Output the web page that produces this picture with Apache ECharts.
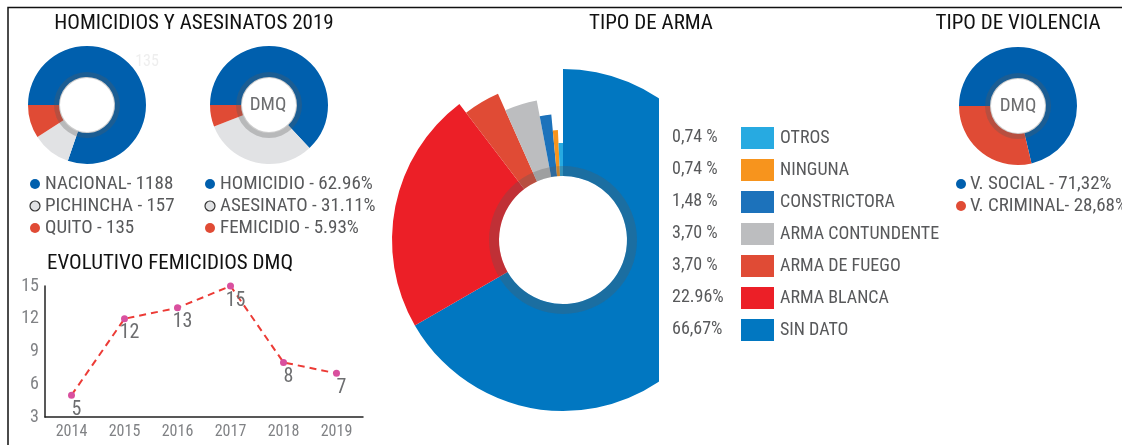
<!DOCTYPE html>
<html lang="es">
<head>
<meta charset="UTF-8"/>
<title>Homicidios DMQ 2019</title>
<script src="https://cdn.jsdelivr.net/npm/echarts@6/dist/echarts.min.js"></script>
<style>
  html, body { margin: 0; padding: 0; background: #fff; }
  #main { width: 1122px; height: 445px; }
</style>
</head>
<body>
<div id="main"></div>
<script type="text/javascript">
// datos
var nacNames = ['NACIONAL', 'PICHINCHA', 'QUITO'];
var nacValues = [1188, 157, 135];
var dmqNames = ['HOMICIDIO', 'ASESINATO', 'FEMICIDIO'];
var dmqValues = [62.96, 31.11, 5.93];
var dmqLabels = ['62.96%', '31.11%', '5.93%'];
var violNames = ['V. SOCIAL', 'V. CRIMINAL'];
var violValues = [71.32, 28.68];
var violLabels = ['71,32%', '28,68%'];
var years = ['2014', '2015', '2016', '2017', '2018', '2019'];
var femicidios = [5, 12, 13, 15, 8, 7];
var yTicks = [3, 6, 9, 12, 15];
// tipo de arma, en orden de la torta (sentido horario desde arriba)
var armaNames = ['SIN DATO', 'ARMA BLANCA', 'ARMA DE FUEGO', 'ARMA CONTUNDENTE', 'CONSTRICTORA', 'NINGUNA', 'OTROS'];
var armaValues = [66.67, 22.96, 3.70, 3.70, 1.48, 0.74, 0.74];
var armaLabels = ['66,67%', '22.96%', '3,70 %', '3,70 %', '1,48 %', '0,74 %', '0,74 %'];

// estilos
var FONT = 'Roboto Condensed, Roboto, sans-serif';
var blue = '#005fad', lgray = '#e1e2e4', orange = '#e04b35';
var armaColors = ['#0177c1', '#ec1f27', '#e04b35', '#bcbdbf', '#1c72bb', '#f7941d', '#27aae1'];
var armaRadius = [171, 171, 160, 142, 126, 110, 97];
var ringColor = 'rgba(90,90,90,0.3)';

var myChart = echarts.init(document.getElementById('main'));

function donut(cx, cy, names, values, colors) {
    return {
        type: 'pie', center: [cx, cy], radius: [28, 59], startAngle: 180,
        label: { show: false }, labelLine: { show: false }, silent: true,
        data: names.map(function (n, i) {
            return { name: n, value: values[i], itemStyle: { color: colors[i] } };
        })
    };
}
function ring(cx, cy, r0, r1) {
    return {
        type: 'pie', center: [cx, cy], radius: [r0, r1], silent: true, z: 5,
        label: { show: false }, labelLine: { show: false },
        data: [{ value: 1, itemStyle: { color: ringColor } }]
    };
}

var series = [];
series.push(donut(87, 105, nacNames, nacValues, [blue, lgray, orange]));
series.push(ring(87, 105, 27, 33));
series.push(donut(269, 105, dmqNames, dmqValues, [blue, lgray, orange]));
series.push(ring(269, 105, 27, 33));
series.push(donut(1018, 106, violNames, violValues, [blue, orange]));
series.push(ring(1018, 106, 27, 33));

// torta tipo de arma: una serie por categoria con su propio radio
armaNames.forEach(function (name, k) {
    series.push({
        type: 'pie', center: [563, 240], radius: [64, armaRadius[k]], startAngle: 90,
        silent: true, label: { show: false }, labelLine: { show: false },
        z: 2,
        data: armaNames.map(function (n, i) {
            return { name: n, value: armaValues[i],
                itemStyle: { color: i === k ? armaColors[i] : 'rgba(0,0,0,0)' } };
        })
    });
});
series.push(ring(563, 240, 64, 74));

// evolutivo femicidios
series.push({
    type: 'line', xAxisIndex: 0, yAxisIndex: 0,
    data: femicidios,
    symbol: 'circle', symbolSize: 7,
    itemStyle: { color: '#d9509f' },
    lineStyle: { color: '#ec3b36', width: 2, type: [7, 5] },
    label: { show: true, position: 'bottom', distance: 1, offset: [5, 0],
             color: '#6d6e70', fontSize: 20, fontFamily: FONT }
});

// textos
var graphics = [];
function txt(x, y, s, size, color, align) {
    graphics.push({ type: 'text', x: x, y: y, z: 100,
        style: { text: s, font: 'normal ' + size + 'px ' + FONT, fill: color,
                 textAlign: align || 'left', textVerticalAlign: 'middle' } });
}
function dot(x, y, fill, stroke) {
    graphics.push({ type: 'circle', z: 100, shape: { cx: x, cy: y, r: 5 },
        style: { fill: fill, stroke: stroke || null, lineWidth: 1.2 } });
}

// marco
graphics.push({ type: 'polyline', z: 100, shape: { points: [[8, 445], [8, 7.5], [1122, 7.5]] },
    style: { stroke: '#111', lineWidth: 1.5, fill: null } });
// recorte de la torta grande
graphics.push({ type: 'rect', z: 50, shape: { x: 659, y: 60, width: 80, height: 360 }, style: { fill: '#fff' } });

txt(194, 24, 'HOMICIDIOS Y ASESINATOS 2019', 21, '#111', 'center');
txt(651, 24, 'TIPO DE ARMA', 21, '#111', 'center');
txt(1018, 24, 'TIPO DE VIOLENCIA', 21, '#111', 'center');
txt(47, 264, 'EVOLUTIVO FEMICIDIOS DMQ', 21, '#111', 'left');
txt(147, 62, String(nacValues[2]), 16, '#eeeeee', 'center');
txt(268, 105, 'DMQ', 19, '#6d6e70', 'center');
txt(1018, 106, 'DMQ', 19, '#6d6e70', 'center');

var dotFill = [blue, lgray, orange];
var dotStroke = [null, '#333', null];
nacNames.forEach(function (n, i) {
    var y = 184 + i * 22;
    dot(35, y, dotFill[i], dotStroke[i]);
    txt(45, y, n + (i === 0 ? '- ' : ' - ') + nacValues[i], 19, '#58595b');
});
dmqNames.forEach(function (n, i) {
    var y = 184 + i * 22;
    dot(210, y, dotFill[i], dotStroke[i]);
    txt(220, y, n + ' - ' + dmqLabels[i], 19, '#58595b');
});
violNames.forEach(function (n, i) {
    var y = 184 + i * 22;
    dot(961, y, [blue, orange][i]);
    txt(970, y, n + (i === 0 ? ' - ' : '- ') + violLabels[i], 19, '#58595b');
});

// leyenda tipo de arma (de abajo hacia arriba en la torta)
for (var j = 0; j < armaNames.length; j++) {
    var k = armaNames.length - 1 - j;
    var y = 138 + j * 32;
    graphics.push({ type: 'rect', z: 100, shape: { x: 741, y: y - 11, width: 33, height: 22 },
        style: { fill: armaColors[k] } });
    txt(780, y, armaNames[k], 18, '#58595b');
    txt(672, y - 1, armaLabels[k], 18, '#58595b');
}

var option = {
    animation: false,
    backgroundColor: '#fff',
    textStyle: { fontFamily: FONT },
    grid: { left: 45, top: 286, width: 318, height: 131 },
    xAxis: {
        type: 'category', data: years, boundaryGap: true,
        axisLine: { lineStyle: { color: '#222', width: 1.5 } },
        axisTick: { show: false },
        axisLabel: { color: '#808285', fontSize: 16, margin: 7, fontFamily: FONT }
    },
    yAxis: {
        type: 'value', min: yTicks[0], max: yTicks[yTicks.length - 1], interval: 3,
        axisLine: { show: true, lineStyle: { color: '#222', width: 1.5 } },
        axisTick: { show: false }, splitLine: { show: false },
        axisLabel: { color: '#808285', fontSize: 18, margin: 6, fontFamily: FONT }
    },
    series: series,
    graphic: graphics
};

myChart.setOption(option);
</script>
</body>
</html>
